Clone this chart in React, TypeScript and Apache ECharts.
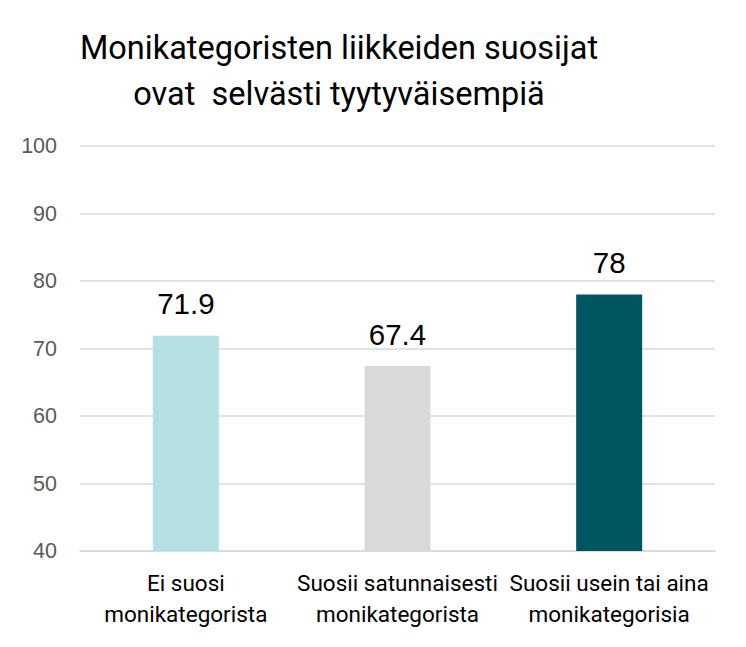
import React, { useEffect, useRef } from "react";
import * as echarts from "echarts";

const categories = ["Ei suosi\nmonikategorista", "Suosii satunnaisesti\nmonikategorista", "Suosii usein tai aina\nmonikategorisia"];
const values = [71.9, 67.4, 78];
const barColors = ["#B4E0E3", "#D9D9D9", "#005660"];
const titleLines = ["Monikategoristen liikkeiden suosijat", "ovat  selvästi tyytyväisempiä"];

const narrow = "'Liberation Sans Narrow', 'Roboto', sans-serif";
const sans = "'Liberation Sans', Arial, sans-serif";

export default function App() {
  const ref = useRef<HTMLDivElement>(null);
  useEffect(() => {
    if (!ref.current) return;
    const chart = echarts.init(ref.current, null, { renderer: "svg" });
    chart.setOption({
      animation: false,
      backgroundColor: "#ffffff",
      graphic: [
        {
          type: "text",
          x: 339,
          y: 48,
          style: {
            text: titleLines[0],
            fontFamily: narrow,
            fontSize: 32.5,
            fill: "#000000",
            textAlign: "center",
            textVerticalAlign: "middle",
          },
        },
        {
          type: "text",
          x: 339,
          y: 94,
          style: {
            text: titleLines[1],
            fontFamily: narrow,
            fontSize: 32.5,
            fill: "#000000",
            textAlign: "center",
            textVerticalAlign: "middle",
          },
        },
      ],
      grid: { left: 80, right: 31, top: 146, bottom: 96, containLabel: false },
      xAxis: {
        type: "category",
        data: categories,
        axisLine: { show: true, lineStyle: { color: "#D9D9D9", width: 1.5 } },
        axisTick: { show: false },
        axisLabel: {
          color: "#000000",
          fontFamily: narrow,
          fontSize: 22.5,
          lineHeight: 31,
          margin: 16,
          interval: 0,
        },
      },
      yAxis: {
        type: "value",
        min: 40,
        max: 100,
        interval: 10,
        axisLine: { show: false },
        axisTick: { show: false },
        axisLabel: {
          color: "#595959",
          fontFamily: sans,
          fontSize: 21.5,
          margin: 23,
        },
        splitLine: { lineStyle: { color: "#D9D9D9", width: 1.5 } },
      },
      series: [
        {
          type: "bar",
          barWidth: 66,
          data: values.map((v, i) => ({ value: v, itemStyle: { color: barColors[i] } })),
          label: {
            show: true,
            position: "top",
            distance: 17,
            color: "#000000",
            fontFamily: sans,
            fontSize: 29.5,
          },
        },
      ],
    });
    return () => chart.dispose();
  }, []);
  return <div ref={ref} style={{ position: "fixed", left: 0, top: 0, width: 746, height: 647 }} />;
}
